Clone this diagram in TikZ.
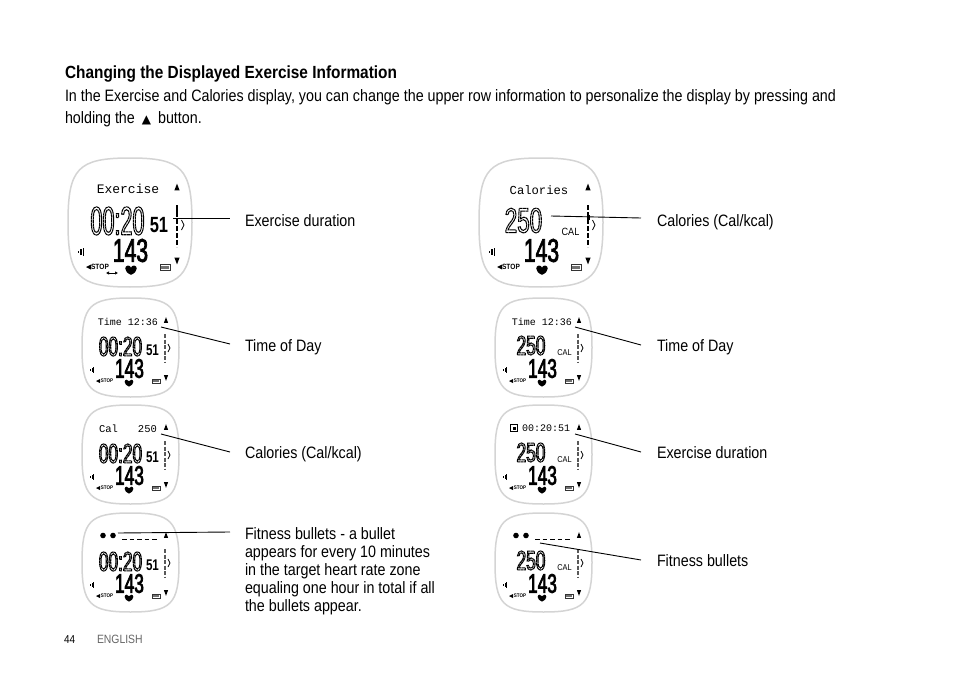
\documentclass[tikz,border=0pt]{standalone}
\usetikzlibrary{arrows.meta}
\usepackage{fontspec}
\setmainfont[FakeStretch=0.866]{Liberation Sans}
\newfontfamily\headf[FakeStretch=0.875]{Liberation Sans}
\newfontfamily\digA[FakeStretch=0.54]{Liberation Sans}
\newfontfamily\digB[FakeStretch=0.64]{Liberation Sans}
\newfontfamily\digC[FakeStretch=0.75]{Liberation Sans}
\newfontfamily\matf{Liberation Mono}
\newfontfamily\symf{DejaVu Sans}
\newcommand{\fs}[1]{\fontsize{#1}{#1}\selectfont}
\newcommand{\hollow}[1]{\special{pdf:code 1 Tr 1.05 w [3 0.45] 0 d}#1\special{pdf:code 0 Tr [] 0 d}}
\newcommand{\thick}[1]{\special{pdf:code 2 Tr 0.7 w}#1\special{pdf:code 0 Tr}}
\definecolor{casing}{RGB}{212,212,212}
\tikzset{
  x=1pt,y=-1pt,
  txt/.style={inner sep=0pt,outer sep=0pt,anchor=base west,font=\fs{16.5},text=black},
  lcd/.style={inner sep=0pt,outer sep=0pt,anchor=center,text=black},
  leader/.style={draw=black,line width=0.9pt},
  casingline/.style={draw=casing,line width=1.5pt,fill=white},
  scalebar/.style={draw=black,dash pattern=on 5pt off 2pt},
}
\newcommand{\casingpath}[2]{%
  \draw[casingline,x=#1pt,y=-#2pt] (.5,0) .. controls (.92,0) and (1,.08) .. (1,.5)
    .. controls (1,.92) and (.92,1) .. (.5,1) .. controls (.08,1) and (0,.92) .. (0,.5)
    .. controls (0,.08) and (.08,0) .. (.5,0) -- cycle;}
\newcommand{\tri}[4]{\fill (#1-#3,#2+#4) -- (#1+#3,#2+#4) -- (#1,#2-#4) -- cycle;}
\newcommand{\trid}[4]{\fill (#1-#3,#2-#4) -- (#1+#3,#2-#4) -- (#1,#2+#4) -- cycle;}
\newcommand{\heart}[3]{\fill (#1,#2+#3) .. controls (#1-#3*.7,#2+#3*.7) and (#1-#3*1.2,#2+#3*.3) .. (#1-#3*1.2,#2-#3*.3)
   .. controls (#1-#3*1.2,#2-#3*1.1) and (#1-#3*.2,#2-#3*1.1) .. (#1,#2-#3*.5)
   .. controls (#1+#3*.2,#2-#3*1.1) and (#1+#3*1.2,#2-#3*1.1) .. (#1+#3*1.2,#2-#3*.3)
   .. controls (#1+#3*1.2,#2+#3*.3) and (#1+#3*.7,#2+#3*.7) .. (#1,#2+#3) -- cycle;}
\newcommand{\speaker}[3]{\fill (#1-3*#3,#2-1*#3) rectangle (#1-1.8*#3,#2+1*#3);
   \fill (#1-1.2*#3,#2-2*#3) rectangle (#1-.2*#3,#2+2*#3); \fill (#1+.4*#3,#2-3*#3) rectangle (#1+1.2*#3,#2+3*#3);}
\newcommand{\batt}[3]{\draw[line width=.5pt,draw=black!80] (#1-#3,#2-.55*#3) rectangle (#1+#3,#2+.55*#3);
   \fill[black!55] (#1-#3*.75,#2-.3*#3) rectangle (#1+#3*.75,#2+.3*#3);}
\newcommand{\bigface}[3]{%
  \begin{scope}[shift={(#2,#3)}]
  \casingpath{124}{129}
  \tri{109}{29}{2.6}{3.4} \trid{109}{103}{2.6}{3.4}
  \draw[scalebar,line width=1.1pt] (109,47) -- (109,89);
  \draw[line width=.8pt] (113.5,62) -- (116,67) -- (113.5,72);
  \speaker{14}{94}{1.4}
  \fill (18,109) -- (23,106.5) -- (23,111.5) -- cycle;
  \node[lcd,font=\bfseries\fs{7.6}] (#1stop) at (32,109) {STOP};
  \heart{63}{112}{4.8}
  \batt{97}{109}{5}
  \node[lcd,font=\digB\fs{33}] (#1hr) at (62.5,92.5) {\thick{143}};
  \end{scope}}
\newcommand{\smallface}[3]{%
  \begin{scope}[shift={(#2,#3)}]
  \casingpath{97}{99}
  \tri{84}{22}{2.1}{2.8} \trid{84}{80}{2.1}{2.8}
  \draw[scalebar,line width=1.2pt,draw=black!65,dash pattern=on 4pt off 1.5pt] (83,36) -- (83,65);
  \draw[line width=.7pt] (86,46) -- (88,50) -- (86,54);
  \speaker{11}{72}{1.1}
  \fill (14,83) -- (18,81) -- (18,85) -- cycle;
  \node[lcd,font=\bfseries\fs{5.2}] (#1stop) at (25,83) {STOP};
  \heart{47}{85}{3.6}
  \batt{74}{83}{4}
  \node[lcd,font=\digB\fs{27}] (#1hr) at (47.5,70.5) {\thick{143}};
  \end{scope}}
\newcommand{\smalltime}[3]{\begin{scope}[shift={(#2,#3)}]
  \node[lcd,font=\digB\fs{27}] (#1time) at (38.5,48.5) {\hollow{00:20}};
  \node[lcd,font=\digC\bfseries\fs{15.5}] (#1sec) at (70.5,52) {51};
  \end{scope}}
\newcommand{\smallcal}[3]{\begin{scope}[shift={(#2,#3)}]
  \node[lcd,font=\digB\fs{27}] (#1cal) at (36,47.5) {\hollow{250}};
  \node[lcd,font=\fs{8.5}] (#1unit) at (69.5,55) {CAL};
  \end{scope}}
\newcommand{\bullets}[3]{\begin{scope}[shift={(#2,#3)}]
  \fill (21,22.5) circle (2.8); \fill (31,22.5) circle (2.8);
  \draw[line width=.7pt,dash pattern=on 4.5pt off 3pt] (40,26) -- (77,26);
  \end{scope}}
\begin{document}
\begin{tikzpicture}
\useasboundingbox[fill=white] (0,0) rectangle (954,677);
% page text
\node[txt,font=\headf\bfseries\fs{17.6}] (head) at (65,79) {Changing the Displayed Exercise Information};
\node[txt] (body1) at (65,102) {In the Exercise and Calories display, you can change the upper row information to personalize the display by pressing and};
\node[txt] (body2) at (65,124) {holding the\hspace{3pt} {\symf\fs{12}▲}\hspace{3pt} button.};
\node[txt,font=\fs{11.5}] (pagenum) at (64,643) {44};
\node[txt,font=\fs{12},text=black!60] (lang) at (97,643) {ENGLISH};
% left column
\bigface{a}{68}{158}
\node[lcd,font=\matf\fs{13}] (atitle) at (128,189) {Exercise};
\node[lcd,font=\digA\fs{40}] (atime) at (117.5,221) {\hollow{00:20}};
\node[lcd,font=\digC\bfseries\fs{22}] (asec) at (159,225) {51};
\fill (175.8,205) rectangle (178.2,213);
\draw[{Latex[length=3pt,width=3.5pt]}-{Latex[length=3pt,width=3.5pt]},line width=.8pt] (106,273) -- (118,273);
\smallface{b}{82}{298}
\smalltime{b}{82}{298}
\node[lcd,font=\matf\fs{10}] (btitle) at (128,322) {Time 12:36};
\smallface{c}{82}{405}
\smalltime{c}{82}{405}
\node[lcd,font=\matf\fs{10.5}] (ctitle) at (128,429) {Cal\hspace{20pt}250};
\smallface{d}{82}{513}
\smalltime{d}{82}{513}
\bullets{d}{82}{513}
% right column
\bigface{e}{479}{158}
\node[lcd,font=\matf\fs{12.2}] (etitle) at (539,190) {Calories};
\node[lcd,font=\digB\fs{35}] (ecal) at (523.5,220.5) {\hollow{250}};
\node[lcd,font=\fs{10.5}] (eunit) at (570.5,232) {CAL};
\fill (587,215) rectangle (590,220);
\smallface{f}{495}{298}
\smallcal{f}{495}{298}
\node[lcd,font=\matf\fs{10}] (ftitle) at (542,322) {Time 12:36};
\smallface{g}{495}{405}
\smallcal{g}{495}{405}
\node[lcd,font=\matf\fs{10}] (gtitle) at (546,428) {00:20:51};
\draw[line width=1pt] (510.5,424.5) rectangle (517.5,431.5);
\fill (512.5,426.5) rectangle (515.5,429.5);
\smallface{h}{495}{513}
\smallcal{h}{495}{513}
\bullets{h}{495}{513}
% labels
\node[txt] (la) at (245,226) {Exercise duration};
\node[txt] (lb) at (245,351) {Time of Day};
\node[txt] (lc) at (245,458) {Calories (Cal/kcal)};
\node[txt] (ld1) at (245,539) {Fitness bullets - a bullet};
\node[txt] (ld2) at (245,557) {appears for every 10 minutes};
\node[txt] (ld3) at (245,575) {in the target heart rate zone};
\node[txt] (ld4) at (245,593) {equaling one hour in total if all};
\node[txt] (ld5) at (245,611) {the bullets appear.};
\node[txt] (le) at (657,226) {Calories (Cal/kcal)};
\node[txt] (lf) at (657,351) {Time of Day};
\node[txt] (lg) at (657,458) {Exercise duration};
\node[txt] (lh) at (657,566) {Fitness bullets};
% leader ends
\coordinate (sa) at (173,218); \coordinate (ea) at (230,218);
\coordinate (sb) at (161,327); \coordinate (eb) at (230,344);
\coordinate (sc) at (161,434); \coordinate (ec) at (230,452);
\coordinate (sd) at (118,533); \coordinate (ed) at (230,532);
\coordinate (se) at (551,216); \coordinate (ee) at (641,218);
\coordinate (sf) at (575,327); \coordinate (ef) at (641,345);
\coordinate (sg) at (575,434); \coordinate (eg) at (641,452);
\coordinate (sh) at (540,543); \coordinate (eh) at (641,560);
\foreach \n in {a,b,c,d,e,f,g,h} \draw[leader] (s\n) -- (e\n);
\end{tikzpicture}
\end{document}
